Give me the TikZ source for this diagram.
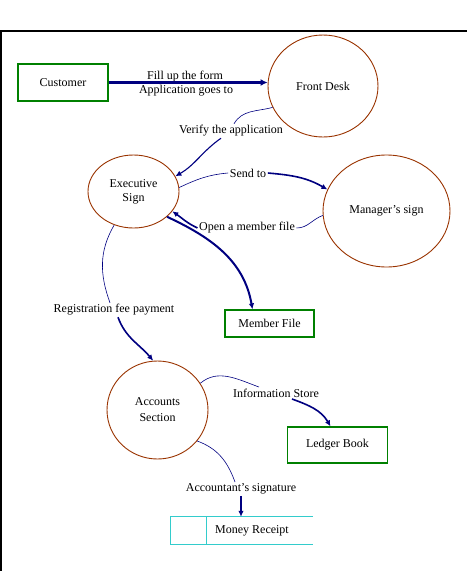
\documentclass[tikz,border=0pt]{standalone}
\usepackage{fontspec}
\setmainfont{Liberation Serif}
\usetikzlibrary{shapes.geometric,positioning,calc,arrows.meta}
\definecolor{navyln}{HTML}{000080}
\definecolor{brownln}{HTML}{993300}
\definecolor{greenln}{HTML}{008000}
\definecolor{cyanln}{HTML}{33CCCC}

\begin{document}
\begin{tikzpicture}[x=1pt,y=-1pt,
  txt/.style={font=\fontsize{12}{14}\selectfont},
  proc/.style={txt,ellipse,draw=brownln,line width=0.9pt,inner sep=0pt,align=center},
  ent/.style={txt,rectangle,draw=greenln,line width=1.2pt,inner sep=0pt},
  lbl/.style={txt,inner sep=1.5pt},
  thinln/.style={draw=navyln,line width=0.6pt},
  flow/.style={draw=navyln,line width=1.6pt,-{Latex[length=6pt,width=5.5pt]}}]
  \useasboundingbox (0,0) rectangle (467,571);
  \draw[line width=2pt] (1,571) -- (1,31) -- (467,31);

  % stores and entities
  \node[ent,minimum width=90pt,minimum height=37pt] (cust) at (63,82.5) {Customer};
  \node[ent,minimum width=89pt,minimum height=27pt] (mf) at (269.5,323.5) {Member File};
  \node[ent,minimum width=100pt,minimum height=36pt] (lb) at (337.5,445) {Ledger Book};
  \node[minimum width=142pt,minimum height=27pt] (mr) at (242,530.5) {};
  \node[txt] (mrtxt) at (252,531) {Money Receipt};
  \draw[cyanln,line width=1pt] (mr.north east) -- (mr.north west) -- (mr.south west) -- (mr.south east);
  \draw[cyanln,line width=1pt] ($(mr.north west)+(36,0)$) -- ($(mr.south west)+(36,0)$);

  % processes
  \node[proc,minimum width=110pt,minimum height=102pt] (fd) at (323,86) {Front Desk};
  \node[proc,minimum width=91pt,minimum height=73pt] (ex) at (133.5,191.5) {Executive\\Sign};
  \node[proc,minimum width=127pt,minimum height=112pt] (ms) at (386.5,211) {Manager’s sign};
  \node[proc,minimum width=101pt,minimum height=98pt] (acc) at (157.5,410) {Accounts\\[2pt]Section};

  % flow labels
  \node[lbl] (lFill) at (185,77) {Fill up the form};
  \node[lbl] (lApp) at (186,91) {Application goes to};
  \node[lbl] (lVer) at (231,131) {Verify the application};
  \node[lbl] (lSend) at (248,173) {Send to};
  \node[lbl] (lOpen) at (247,228) {Open a member file};
  \node[lbl] (lReg) at (114,310) {Registration fee payment};
  \node[lbl] (lInfo) at (276,393) {Information Store};
  \node[lbl] (lAcs) at (241,489) {Accountant’s signature};

  % flows
  \draw[flow,line width=2.6pt,-{Latex[length=7pt,width=7pt]}] (cust.east) -- (cust.east -| fd.west);
  \draw[thinln] (fd.203) to[out=195,in=60] ($(lVer.north)+(3,0)$);
  \draw[flow,line width=1.1pt] ($(lVer.south)+(-10,0)$) to[out=215,in=30] (ex.20);
  \draw[thinln] (ex.5) to[out=25,in=185] (lSend.west);
  \draw[flow] (lSend.east) to[out=-5,in=150] (ms.160);
  \draw[thinln] (ms.184) to[out=200,in=0] (lOpen.east);
  \draw[flow] (lOpen.west) to[out=155,in=-35] (ex.-27);
  \draw[flow,line width=2pt] (ex.-37) to[out=-25,in=100] ($(mf.north)+(-17,0)$);
  \draw[thinln] (ex.-120) to[out=-120,in=110] ($(lReg.north)+(-4,0)$);
  \draw[flow] ($(lReg.south)+(4,0)$) to[out=-70,in=130] (acc.95);
  \draw[thinln] (acc.32) to[out=40,in=160] ($(lInfo.north)+(-17,0)$);
  \draw[flow] ($(lInfo.south)+(16,0)$) to[out=-20,in=120] ($(lb.north)+(-7,0)$);
  \draw[thinln] (acc.-38) to[out=-20,in=110] ($(lAcs.north)+(-6,0)$);
  \draw[flow] (lAcs.south) -- (lAcs.south |- mr.north);
\end{tikzpicture}
\end{document}
